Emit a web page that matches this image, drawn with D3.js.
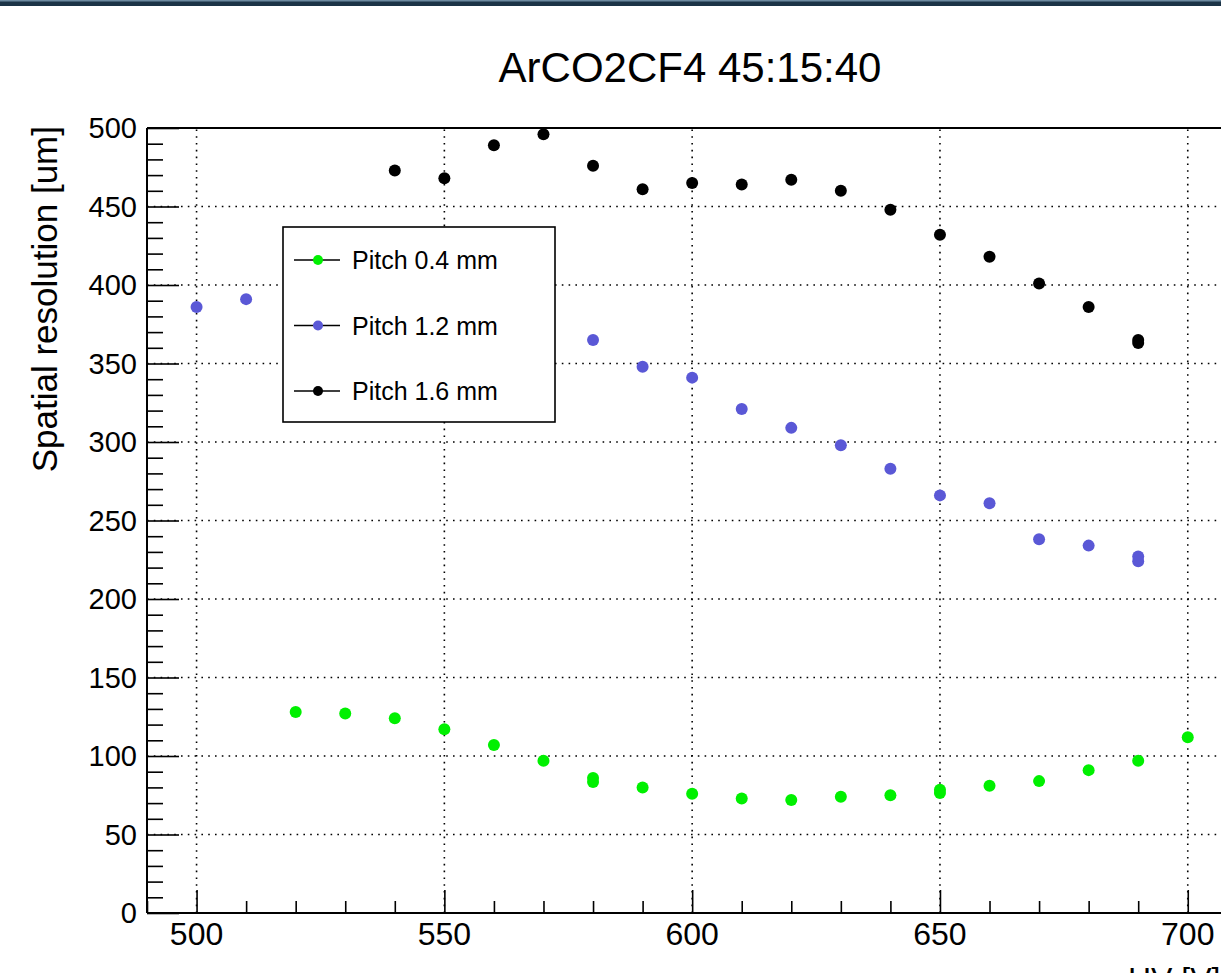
<!DOCTYPE html>
<html>
<head>
<meta charset="utf-8">
<script src="https://cdnjs.cloudflare.com/ajax/libs/d3/7.8.5/d3.min.js"></script>
<style>
  html, body { margin: 0; padding: 0; background: #fff; overflow: hidden; width: 1221px; height: 973px; }
  svg { position: absolute; left: 0; top: 0; font-family: "Liberation Sans", Arial, sans-serif; }
  .grid line { stroke: #000; stroke-width: 1.6; stroke-dasharray: 1.6 5.2; }
</style>
</head>
<body>
<svg id="chart" width="1221" height="973"></svg>
<script>
var width = 1221, height = 973;

// series (HV in V, resolution in um)
var hv04 = [520, 530, 540, 550, 560, 570, 580, 580, 590, 600, 610, 620, 630, 640, 650, 650, 660, 670, 680, 690, 700];
var res04 = [128, 127, 124, 117, 107, 97, 86, 83.5, 80, 76, 73, 72, 74, 75, 78.5, 76.5, 81, 84, 91, 97, 112];

var hv12 = [500, 510, 580, 590, 600, 610, 620, 630, 640, 650, 660, 670, 680, 690, 690];
var res12 = [386, 391, 365, 348, 341, 321, 309, 298, 283, 266, 261, 238, 234, 227, 224];

var hv16 = [540, 550, 560, 570, 580, 590, 600, 610, 620, 630, 640, 650, 660, 670, 680, 690, 690];
var res16 = [473, 468, 489, 496, 476, 461, 465, 464, 467, 460, 448, 432, 418, 401, 386, 365, 363];

var seriesNames = ['Pitch 0.4 mm', 'Pitch 1.2 mm', 'Pitch 1.6 mm'];
var seriesColors = ['#00f000', '#5a58d6', '#000000'];

var xTicks = [500, 550, 600, 650, 700];
var yTicks = [0, 50, 100, 150, 200, 250, 300, 350, 400, 450, 500];

var padLeft = 147, padTop = 128, padBottom = 913;

var x = d3.scaleLinear().domain([490, 710]).range([padLeft, padLeft + 220 * 4.956]);
var y = d3.scaleLinear().domain([0, 500]).range([padBottom, padTop]);

var svg = d3.select('#chart');

// white background so nothing shows through at the edges
svg.append('rect').attr('width', width).attr('height', height).attr('fill', '#fff');

// dark strip at the top of the canvas
svg.append('rect').attr('x', 0).attr('y', 0).attr('width', width).attr('height', 6).attr('fill', '#1b3346');
svg.append('rect').attr('x', 0).attr('y', 0).attr('width', width).attr('height', 1.5).attr('fill', '#6d8aa0');

// grid
var grid = svg.append('g').classed('grid', true);
grid.selectAll('line.v')
    .data(xTicks)
    .enter()
    .append('line')
    .attr('x1', function (d) { return x(d); })
    .attr('x2', function (d) { return x(d); })
    .attr('y1', padBottom)
    .attr('y2', padTop);
grid.selectAll('line.h')
    .data(yTicks.filter(function (d) { return d > 0 && d < 500; }))
    .enter()
    .append('line')
    .attr('x1', padLeft)
    .attr('x2', width)
    .attr('y1', function (d) { return y(d); })
    .attr('y2', function (d) { return y(d); });

// frame top line
svg.append('line')
    .attr('x1', padLeft).attr('x2', width)
    .attr('y1', padTop).attr('y2', padTop)
    .attr('stroke', '#000').attr('stroke-width', 2);

// y axis: major + minor ticks drawn inward (ROOT style)
var yAxis = d3.axisRight(y)
    .tickValues(d3.range(0, 501, 10))
    .tickSize(16)
    .tickFormat('');
var gy = svg.append('g')
    .attr('transform', 'translate(' + padLeft + ',0)')
    .call(yAxis);
gy.selectAll('.tick line')
    .attr('x2', function (d) { return d % 50 === 0 ? 32 : 16; })
    .attr('stroke-width', 1.6);
gy.select('.domain').attr('stroke-width', 2).attr('d', 'M0,' + padBottom + 'V' + padTop);

svg.append('g').selectAll('text')
    .data(yTicks)
    .enter()
    .append('text')
    .attr('x', 137)
    .attr('y', function (d) { return y(d); })
    .attr('dy', '0.36em')
    .attr('text-anchor', 'end')
    .attr('font-size', 29)
    .text(function (d) { return d; });

// x axis (ticks stop at the visible edge)
var xAxis = d3.axisTop(x)
    .tickValues(d3.range(490, 701, 10))
    .tickSize(12)
    .tickFormat('');
var gx = svg.append('g')
    .attr('transform', 'translate(0,' + padBottom + ')')
    .call(xAxis);
gx.selectAll('.tick line')
    .attr('y2', function (d) { return d % 50 === 0 ? -23 : -12; })
    .attr('stroke-width', 1.6);
gx.select('.domain').attr('stroke-width', 2).attr('d', 'M' + padLeft + ',0H' + width);

svg.append('g').selectAll('text')
    .data(xTicks)
    .enter()
    .append('text')
    .attr('x', function (d) { return x(d); })
    .attr('y', 945)
    .attr('text-anchor', 'middle')
    .attr('font-size', 32)
    .text(function (d) { return d; });

// titles
svg.append('text')
    .attr('x', 690)
    .attr('y', 82)
    .attr('text-anchor', 'middle')
    .attr('font-size', 42)
    .text('ArCO2CF4 45:15:40');

svg.append('text')
    .attr('transform', 'translate(57,126) rotate(-90)')
    .attr('text-anchor', 'end')
    .attr('font-size', 35)
    .text('Spatial resolution [um]');

svg.append('text')
    .attr('x', 1128)
    .attr('y', 990)
    .attr('font-size', 32)
    .text('HV [V]');

// points
function drawSeries(xs, ys, color) {
    svg.append('g')
        .selectAll('circle')
        .data(xs)
        .enter()
        .append('circle')
        .attr('cx', function (d) { return x(d); })
        .attr('cy', function (d, i) { return y(ys[i]); })
        .attr('r', 6)
        .attr('fill', color);
}
drawSeries(hv04, res04, seriesColors[0]);
drawSeries(hv12, res12, seriesColors[1]);
drawSeries(hv16, res16, seriesColors[2]);

// legend
var legend = svg.append('g');
legend.append('rect')
    .attr('x', 283).attr('y', 227)
    .attr('width', 272).attr('height', 195)
    .attr('fill', '#fff').attr('stroke', '#000').attr('stroke-width', 1.6);

var entries = legend.selectAll('g.entry')
    .data(seriesNames)
    .enter()
    .append('g')
    .attr('transform', function (d, i) { return 'translate(0,' + (260 + i * 65.5) + ')'; });
entries.append('line')
    .attr('x1', 294).attr('x2', 340)
    .attr('y1', 0).attr('y2', 0)
    .attr('stroke', '#000').attr('stroke-width', 1.5);
entries.append('circle')
    .attr('cx', 318).attr('cy', 0).attr('r', 5)
    .attr('fill', function (d, i) { return seriesColors[i]; });
entries.append('text')
    .attr('x', 352).attr('y', 9)
    .attr('font-size', 25)
    .text(function (d) { return d; });
</script>
</body>
</html>
